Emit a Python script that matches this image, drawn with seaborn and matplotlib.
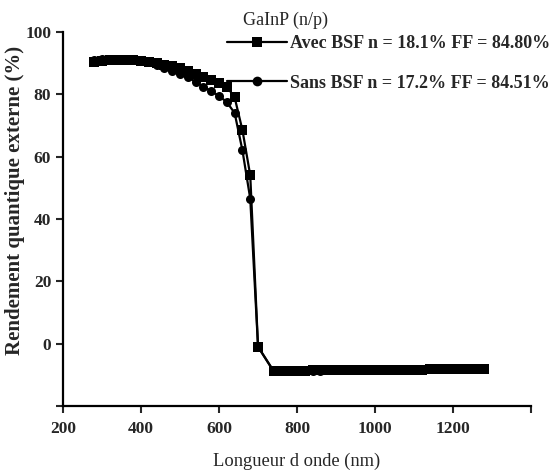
"""External quantum efficiency of a GaInP (n/p) cell, with and without BSF."""

import matplotlib
matplotlib.use("Agg")
import matplotlib.pyplot as plt
import numpy as np
import pandas as pd
import seaborn as sns

# wavelength (nm)
wavelength = [280, 300, 320, 340, 360, 380, 400, 420, 440, 460, 480, 500,
              520, 540, 560, 580, 600, 620, 640, 660, 680, 700,
              740, 760, 780, 800, 820, 840, 860, 880, 900, 920, 940, 960,
              980, 1000, 1020, 1040, 1060, 1080, 1100, 1120, 1140, 1160,
              1180, 1200, 1220, 1240, 1260, 1280]

# EQE (%) with BSF
eqe_avec = [90.5, 90.8, 91.0, 91.0, 91.0, 91.0, 90.8, 90.5, 90.0, 89.5, 89.0, 88.5,
            87.5, 86.5, 85.5, 84.5, 83.5, 82.5, 79.0, 68.5, 54.0, -1.0,
            -8.8, -8.8, -8.7, -8.7, -8.7, -8.6, -8.6, -8.6, -8.5, -8.5, -8.5, -8.5,
            -8.4, -8.4, -8.4, -8.4, -8.3, -8.3, -8.3, -8.3, -8.2, -8.2,
            -8.2, -8.2, -8.1, -8.1, -8.1, -8.0]

# EQE (%) without BSF
eqe_sans = [91.0, 91.3, 91.4, 91.4, 91.3, 91.2, 91.0, 90.5, 89.5, 88.5, 87.5, 86.5,
            85.5, 84.0, 82.5, 81.0, 79.5, 77.5, 74.0, 62.0, 46.5, -1.0,
            -8.9, -8.9, -8.8, -8.8, -8.7, -8.7, -8.7, -8.6, -8.6, -8.6, -8.5, -8.5,
            -8.5, -8.4, -8.4, -8.4, -8.4, -8.3, -8.3, -8.3, -8.2, -8.2,
            -8.2, -8.2, -8.1, -8.1, -8.1, -8.0]

labels = ["Avec BSF n = 18.1% FF = 84.80%", "Sans BSF n = 17.2% FF = 84.51%"]

x_ticks = [200, 400, 600, 800, 1000, 1200, 1400]
y_ticks = [-20, 0, 20, 40, 60, 80, 100]

df = pd.concat([
    pd.DataFrame({"wl": wavelength, "eqe": eqe_avec, "serie": labels[0]}),
    pd.DataFrame({"wl": wavelength, "eqe": eqe_sans, "serie": labels[1]}),
])

sns.set_style("ticks")
plt.rcParams["font.family"] = ["Liberation Serif", "DejaVu Serif"]

fig = plt.figure(figsize=(5.55, 4.75), dpi=100)
ax = fig.add_axes([0.1135, 0.1453, 0.8435, 0.7873])

sns.lineplot(data=df, x="wl", y="eqe", style="serie", hue="serie",
             palette=["black", "black"], markers={labels[0]: "s", labels[1]: "o"},
             dashes=False, markersize=6.5, linewidth=1.6, markeredgewidth=0,
             ax=ax)

ax.set_xlim(200, 1400)
ax.set_ylim(-20, 100)
ax.set_xticks(x_ticks)
ax.set_xticklabels([str(t) if t < 1400 else "" for t in x_ticks])
ax.set_yticks(y_ticks)
ax.set_yticklabels([str(t) if t > -20 else "" for t in y_ticks])
ax.tick_params(labelsize=12.5, width=1.5, length=5, direction="out")
ax.tick_params(axis="x", pad=6)
for lab in ax.get_xticklabels() + ax.get_yticklabels():
    lab.set_fontweight("bold")
sns.despine(ax=ax)
for side in ("left", "bottom"):
    ax.spines[side].set_linewidth(1.6)
    ax.spines[side].set_color("black")

ax.set_xlabel("Longueur d onde (nm)", fontsize=13.3)
ax.xaxis.set_label_coords(0.5, (406 - 453) / 374)
ax.set_ylabel("Rendement quantique externe (%)", fontsize=15, fontweight="bold")
ax.yaxis.set_label_coords((25 - 63) / 468, (406 - 200) / 374)

handles, _ = ax.get_legend_handles_labels()
for h in handles:
    h.set_markersize(7)
ax.legend(handles=handles, labels=labels, loc="upper left",
          bbox_to_anchor=(227 / 555, 1 - 35 / 475), bbox_transform=fig.transFigure,
          frameon=False, prop={"size": 13, "weight": "bold"}, handlelength=3.3,
          handletextpad=0.2, labelspacing=1.25, borderaxespad=0, borderpad=0)

fig.text(243 / 555, 1 - 20 / 475, "GaInP (n/p)", fontsize=13, va="center", ha="left")

fig.savefig("out.png", dpi=100)
